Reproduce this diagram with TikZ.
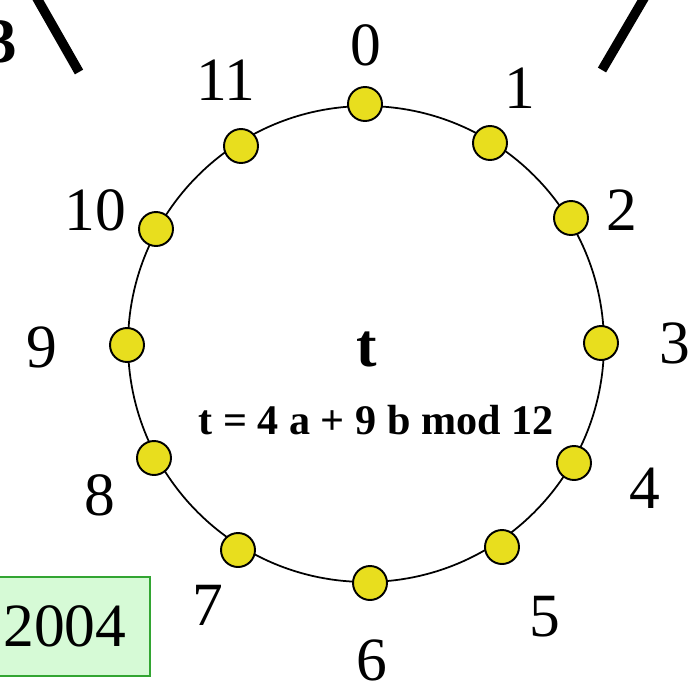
\documentclass[tikz,border=0pt]{standalone}
\usepackage{fontspec}
\setmainfont{Liberation Serif}
\usetikzlibrary{calc}
\definecolor{DotYellow}{RGB}{232,222,30}
\definecolor{BoxGreen}{RGB}{50,165,50}
\definecolor{LightGreen}{RGB}{214,250,214}
\tikzset{
	dot/.style={circle, draw=black, line width=1.1pt, fill=DotYellow, minimum size=0.68cm, inner sep=0pt},
	num/.style={font=\fontsize{35}{40}\selectfont, inner sep=0pt},
	stroke/.style={line width=0.19cm},
	yearbox/.style={draw=BoxGreen, fill=LightGreen, line width=1.2pt, minimum width=3.4cm, minimum height=1.98cm, inner sep=0pt, font=\fontsize{35}{40}\selectfont}
}

\begin{document}
\begin{tikzpicture}[x=0.02cm, y=-0.02cm] % units are pixels of the page, y pointing down
	\useasboundingbox (0,0) rectangle (697,684);
	\coordinate (O) at (366,344);
	\draw[line width=1pt] (O) circle (4.76cm);
	\foreach \n/\x/\y in {0/365/104, 1/490/143, 2/571/218, 3/601/343, 4/574/463, 5/502/547,
		6/370/583, 7/238/550, 8/154/458, 9/127/345, 10/156/229, 11/241/146}
	\node[dot] (d\n) at (\x,\y) {};
	\foreach \n/\x/\y in {0/366/45, 1/520/88, 2/622/210, 3/675/343, 4/645/488, 5/545/617,
		6/372/660, 7/208/605, 8/100/495, 9/42/347, 10/95/210, 11/226/80}
	\node[num] (l\n) at (\x,\y) {\n};
	\node[font=\bfseries\fontsize{35}{40}\selectfont, inner sep=0pt] (t) at (367,349) {t};
	\node[font=\bfseries\fontsize{24}{28}\selectfont, inner sep=0pt] (eq) at (376,420) {t = 4 a + 9 b mod 12};
	\node[font=\bfseries\fontsize{36}{40}\selectfont, inner sep=0pt, anchor=east] (cut) at (17,42) {3};
	\draw[stroke] (30,-14) -- (79,72);
	\draw[stroke] (650,-12) -- (602,70);
	\node[yearbox] (yr) at (65,626.5) {2004};
\end{tikzpicture}
\end{document}
